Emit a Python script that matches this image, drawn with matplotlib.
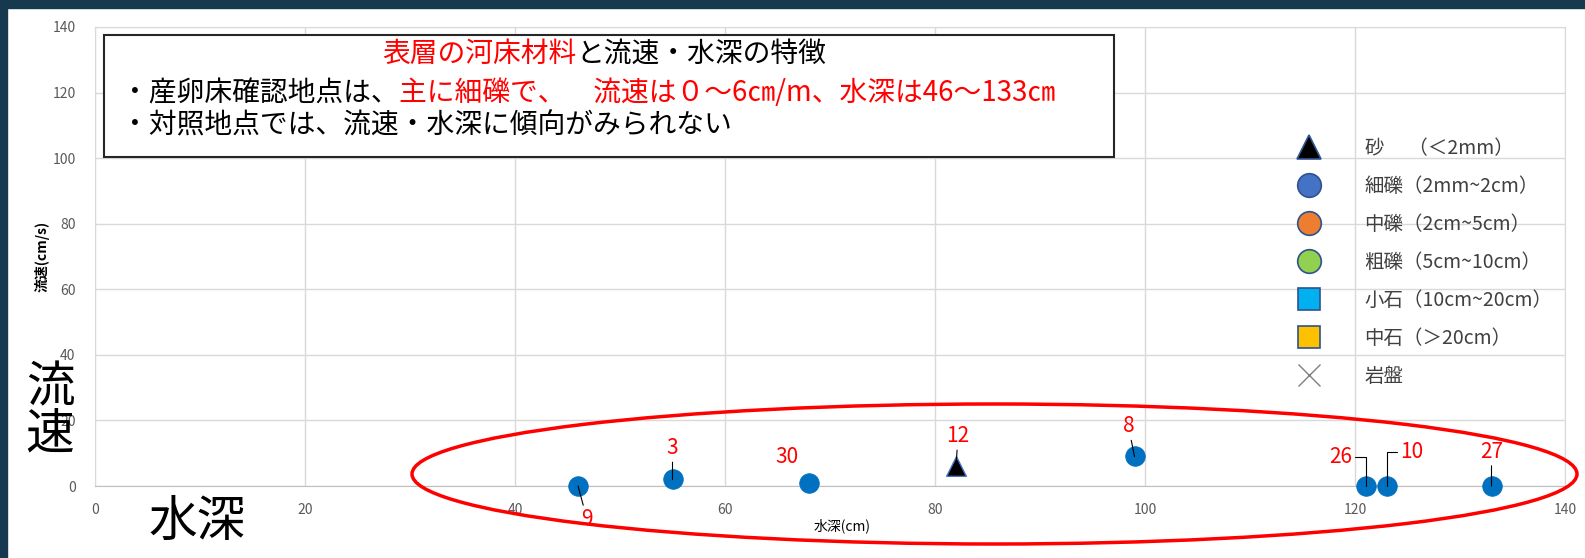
import matplotlib.pyplot as plt
from matplotlib.patches import Ellipse, Rectangle
from matplotlib.lines import Line2D
from matplotlib.text import Annotation

plt.rcParams['font.family'] = ['Noto Sans CJK JP', 'DejaVu Sans']

# 調査地点ごとの水深(cm)・流速(cm/s)・地点番号・河床材料
depth = [46, 55, 68, 82, 99, 121, 123, 133]
velocity = [0, 2, 1, 6, 9, 0, 0, 0]
site_no = ['9', '3', '30', '12', '8', '26', '10', '27']
material = ['細礫', '細礫', '細礫', '砂', '細礫', '細礫', '細礫', '細礫']

legend_labels = ['砂　 （＜2mm）', '細礫（2mm~2cm）', '中礫（2cm~5cm）', '粗礫（5cm~10cm）',
                 '小石（10cm~20cm）', '中石（＞20cm）', '岩盤']
ticks = [0, 20, 40, 60, 80, 100, 120, 140]

W, H = 1585, 558
fig = plt.figure(figsize=(W / 100, H / 100), dpi=100)

# スライドの枠
fig.add_artist(Rectangle((0, 1 - 8 / H), 1, 8 / H, transform=fig.transFigure, color='#17394f', zorder=10))
fig.add_artist(Rectangle((0, 0), 7 / W, 1, transform=fig.transFigure, color='#17394f', zorder=10))

ax = fig.add_axes([95 / W, 72 / H, 1470 / W, 459 / H])
ax.set_xlim(0, 140)
ax.set_ylim(0, 140)
ax.set_xticks(ticks)
ax.set_yticks(ticks)
ax.grid(True, color='#d9d9d9', lw=1)
ax.set_axisbelow(True)
for s in ax.spines.values():
    s.set_color('#d9d9d9')
ax.spines['bottom'].set_color('#bfbfbf')
ax.tick_params(length=0, labelsize=10, labelcolor='#595959')
ax.tick_params(axis='x', pad=12)
ax.tick_params(axis='y', pad=14)

ax.set_ylabel('流速(cm/s)', fontsize=10, fontweight='bold')
ax.yaxis.set_label_coords(-0.0306, 0.5)
ax.set_xlabel('水深(cm)', fontsize=10)
ax.xaxis.set_label_coords(0.508, -0.07)

styles = {
    '砂': dict(marker='^', facecolor='black', edgecolor='#4472C4', linewidths=1),
    '細礫': dict(marker='o', facecolor='#0070C0', edgecolor='#0070C0', linewidths=0.5),
}
for m, st in styles.items():
    xs = [d for d, k in zip(depth, material) if k == m]
    ys = [v for v, k in zip(velocity, material) if k == m]
    ax.scatter(xs, ys, s=200, clip_on=False, zorder=3, **st)

# 地点番号のラベル(ピクセル単位のずらし量)
offsets = {'9': (9, -33), '3': (0, 31), '30': (-22, 26), '12': (2, 30),
           '8': (-6, 30), '26': (-25, 29), '10': (25, 34), '27': (0, 34)}
for x, y, n in zip(depth, velocity, site_no):
    arrow = dict(arrowstyle='-', color='black', lw=0.8, shrinkA=0, shrinkB=0)
    if n in ('26', '10'):
        arrow['connectionstyle'] = 'angle,angleA=0,angleB=90,rad=0'
    if n == '30':
        arrow = None
    ax.annotate(n, (x, y), xytext=offsets[n], textcoords='offset pixels',
                ha='center', va='center', color='red', fontsize=15,
                arrowprops=arrow, annotation_clip=False, zorder=4)

handles = [
    Line2D([], [], ls='none', marker='^', ms=17, mfc='black', mec='#2F5597', mew=1.2),
    Line2D([], [], ls='none', marker='o', ms=17, mfc='#4472C4', mec='#2F528F', mew=1.2),
    Line2D([], [], ls='none', marker='o', ms=17, mfc='#ED7D31', mec='#2F528F', mew=1.2),
    Line2D([], [], ls='none', marker='o', ms=17, mfc='#92D050', mec='#2F528F', mew=1.2),
    Line2D([], [], ls='none', marker='s', ms=16, mfc='#00B0F0', mec='#2F528F', mew=1.2),
    Line2D([], [], ls='none', marker='s', ms=16, mfc='#FFC000', mec='#2F528F', mew=1.2),
    Line2D([], [], ls='none', marker='x', ms=16, mec='#7F7F7F', mew=1),
]
leg = ax.legend(handles, legend_labels, loc='upper left', bbox_to_anchor=(0.816, 0.758),
                frameon=False, fontsize=14, labelspacing=0.87, handlelength=1.5,
                handletextpad=2.1, borderpad=0, borderaxespad=0)
for t in leg.get_texts():
    t.set_color('#404040')

# 赤い楕円
fig.add_artist(Ellipse((994.5 / W, 1 - 474 / H), 1165 / W, 140 / H, transform=fig.transFigure,
                       fill=False, edgecolor='red', lw=2.5, zorder=8))

# 説明の枠と文章
fig.add_artist(Rectangle((104 / W, 1 - 157 / H), 1010 / W, 122 / H, transform=fig.transFigure,
                         facecolor='white', edgecolor='#262626', lw=1.5, zorder=5))


def line_of_text(x, y, parts, size=20):
    t = fig.text(x, y, parts[0][0], color=parts[0][1], fontsize=size, ha='left', va='center', zorder=6)
    for s, c in parts[1:]:
        t = fig.add_artist(Annotation(s, xy=(1, 0), xycoords=t, ha='left', va='bottom',
                                      color=c, fontsize=size, zorder=6))


line_of_text(382 / W, 1 - 54 / H, [('表層の河床材料', 'red'), ('と流速・水深の特徴', 'black')])
line_of_text(121 / W, 1 - 93 / H, [('・産卵床確認地点は、', 'black'),
                                   ('主に細礫で、　流速は０～6㎝/m、水深は46～133㎝', 'red')])
line_of_text(121 / W, 1 - 125 / H, [('・対照地点では、流速・水深に傾向がみられない', 'black')])

fig.text(50 / W, 1 - 388 / H, '流', fontsize=35, ha='center', va='center')
fig.text(50 / W, 1 - 435 / H, '速', fontsize=35, ha='center', va='center')
fig.text(197 / W, 1 - 522 / H, '水深', fontsize=35, ha='center', va='center')

fig.savefig('out.png', dpi=100)
